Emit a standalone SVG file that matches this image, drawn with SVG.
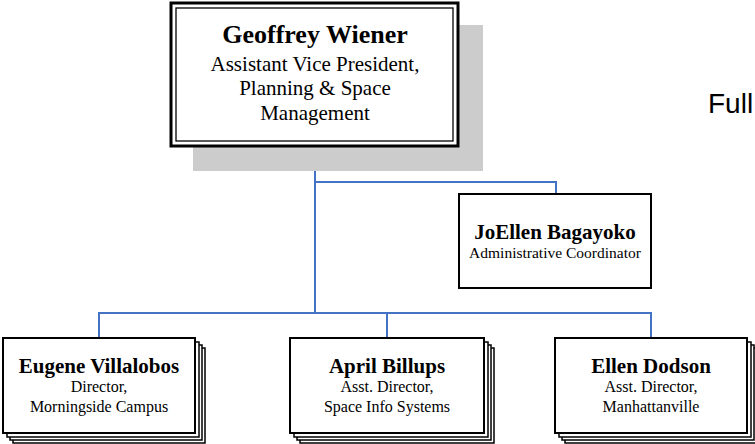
<svg xmlns="http://www.w3.org/2000/svg" width="755" height="444" viewBox="0 0 755 444">
<style>
.bx{fill:#fff;stroke:#000;stroke-width:2}
.st{fill:#fff;stroke:#000;stroke-width:1.5}
.nm{font-family:"Liberation Serif","Times New Roman",serif;font-weight:bold;text-anchor:middle;fill:#000}
.tl{font-family:"Liberation Serif","Times New Roman",serif;text-anchor:middle;fill:#000}
.cn{fill:none;stroke:#4472C4;stroke-width:2}
</style>
<rect width="755" height="444" fill="#fff"/>
<g id="connectors">
<path class="cn" d="M315 146V313M315 182H556V194M99 338V313H651V338M387 313V338"/>
</g>
<g id="geoffrey">
<rect x="193" y="25" width="290" height="146" fill="#cccccc"/>
<rect x="171" y="3" width="287" height="143" fill="#fff" stroke="#000" stroke-width="3"/>
<rect x="176" y="8" width="277" height="133" fill="none" stroke="#000" stroke-width="1.3"/>
<text class="nm" x="315" y="43" font-size="26">Geoffrey Wiener</text>
<text class="tl" x="315" y="71" font-size="21">Assistant Vice President,</text>
<text class="tl" x="315" y="95" font-size="21">Planning &amp; Space</text>
<text class="tl" x="315" y="120" font-size="21">Management</text>
</g>
<g id="joellen">
<rect class="bx" x="459" y="194" width="192" height="94"/>
<text class="nm" x="555" y="239" font-size="21">JoEllen Bagayoko</text>
<text class="tl" x="555" y="258" font-size="15.5">Administrative Coordinator</text>
</g>
<g id="eugene">
<rect class="st" x="13" y="348" width="192" height="95"/>
<rect class="st" x="10" y="345" width="192" height="95"/>
<rect class="st" x="7" y="342" width="192" height="95"/>
<rect class="bx" x="3" y="338" width="192" height="95"/>
<text class="nm" x="99" y="373" font-size="21">Eugene Villalobos</text>
<text class="tl" x="99" y="392" font-size="16">Director,</text>
<text class="tl" x="99" y="412" font-size="16">Morningside Campus</text>
</g>
<g id="april">
<rect class="st" x="300" y="348" width="194" height="95"/>
<rect class="st" x="297" y="345" width="194" height="95"/>
<rect class="st" x="294" y="342" width="194" height="95"/>
<rect class="bx" x="290" y="338" width="194" height="95"/>
<text class="nm" x="387" y="373" font-size="21">April Billups</text>
<text class="tl" x="387" y="392" font-size="16">Asst. Director,</text>
<text class="tl" x="387" y="412" font-size="16">Space Info Systems</text>
</g>
<g id="ellen">
<rect class="st" x="565" y="348" width="192" height="95"/>
<rect class="st" x="562" y="345" width="192" height="95"/>
<rect class="st" x="559" y="342" width="192" height="95"/>
<rect class="bx" x="555" y="338" width="192" height="95"/>
<text class="nm" x="651" y="373" font-size="21">Ellen Dodson</text>
<text class="tl" x="651" y="392" font-size="16">Asst. Director,</text>
<text class="tl" x="651" y="412" font-size="16">Manhattanville</text>
</g>
<text x="708" y="113" font-family="'Liberation Sans',Arial,sans-serif" font-size="28" fill="#000">Full</text>
</svg>
